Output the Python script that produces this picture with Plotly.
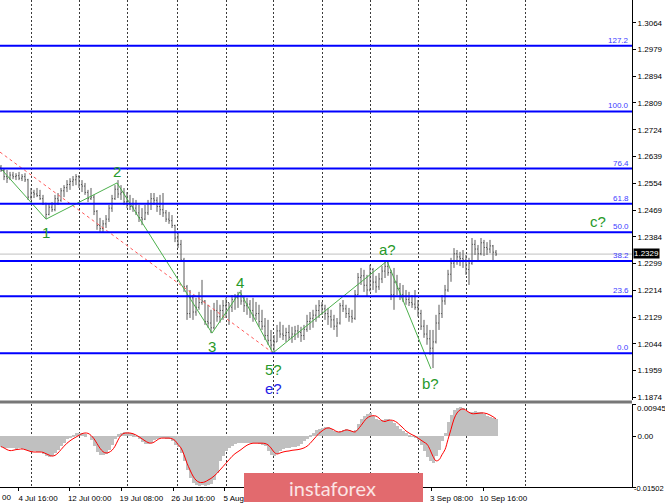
import plotly.graph_objects as go

# ---------------- data ----------------
open_ = [
    1.2605, 1.2595, 1.2575, 1.2570, 1.2580, 1.2575, 1.2578, 1.2570, 1.2575, 1.2565,
    1.2510, 1.2525, 1.2520, 1.2515, 1.2505, 1.2490, 1.2455, 1.2478, 1.2470, 1.2505,
    1.2500, 1.2530, 1.2540, 1.2550, 1.2560, 1.2565, 1.2575, 1.2550, 1.2545, 1.2525,
    1.2505, 1.2510, 1.2465, 1.2420, 1.2410, 1.2425, 1.2440, 1.2475, 1.2505, 1.2535,
    1.2520, 1.2525, 1.2495, 1.2490, 1.2480, 1.2475, 1.2460, 1.2445, 1.2440, 1.2460,
    1.2490, 1.2505, 1.2500, 1.2480, 1.2470, 1.2460, 1.2440, 1.2435, 1.2420, 1.2380,
    1.2360, 1.2310, 1.2225, 1.2140, 1.2190, 1.2145, 1.2160, 1.2175, 1.2180, 1.2115,
    1.2110, 1.2095, 1.2150, 1.2130, 1.2150, 1.2165, 1.2175, 1.2160, 1.2185, 1.2190,
    1.2195, 1.2180, 1.2165, 1.2170, 1.2150, 1.2135, 1.2140, 1.2115, 1.2100, 1.2070,
    1.2055, 1.2040, 1.2050, 1.2085, 1.2075, 1.2070, 1.2080, 1.2065, 1.2075, 1.2085,
    1.2080, 1.2070, 1.2090, 1.2115, 1.2125, 1.2135, 1.2150, 1.2165, 1.2155, 1.2140,
    1.2130, 1.2120, 1.2100, 1.2110, 1.2165, 1.2155, 1.2140, 1.2130, 1.2125, 1.2200,
    1.2255, 1.2260, 1.2230, 1.2215, 1.2280, 1.2240, 1.2225, 1.2250, 1.2275, 1.2290,
    1.2270, 1.2200, 1.2240, 1.2220, 1.2200, 1.2195, 1.2185, 1.2175, 1.2170, 1.2160,
    1.2140, 1.2100, 1.2075, 1.2060, 1.2030, 1.2050, 1.2110, 1.2140, 1.2180, 1.2215,
    1.2265, 1.2300, 1.2330, 1.2320, 1.2315, 1.2310, 1.2280, 1.2300, 1.2360, 1.2345,
    1.2330, 1.2365, 1.2350, 1.2345, 1.2355, 1.2335,
]
high = [
    1.2612, 1.2602, 1.2596, 1.2590, 1.2590, 1.2586, 1.2590, 1.2583, 1.2586, 1.2568,
    1.2539, 1.2533, 1.2539, 1.2533, 1.2517, 1.2492, 1.2491, 1.2494, 1.2517, 1.2523,
    1.2539, 1.2548, 1.2564, 1.2570, 1.2577, 1.2583, 1.2580, 1.2564, 1.2555, 1.2533,
    1.2539, 1.2517, 1.2469, 1.2444, 1.2437, 1.2453, 1.2485, 1.2517, 1.2548, 1.2564,
    1.2548, 1.2539, 1.2526, 1.2517, 1.2507, 1.2501, 1.2485, 1.2475, 1.2485, 1.2501,
    1.2523, 1.2523, 1.2510, 1.2517, 1.2523, 1.2469, 1.2463, 1.2453, 1.2422, 1.2399,
    1.2374, 1.2317, 1.2231, 1.2215, 1.2199, 1.2190, 1.2209, 1.2247, 1.2183, 1.2168,
    1.2152, 1.2174, 1.2183, 1.2168, 1.2183, 1.2190, 1.2174, 1.2199, 1.2202, 1.2209,
    1.2215, 1.2196, 1.2190, 1.2183, 1.2190, 1.2177, 1.2168, 1.2152, 1.2126, 1.2120,
    1.2088, 1.2072, 1.2104, 1.2114, 1.2104, 1.2095, 1.2104, 1.2098, 1.2101, 1.2104,
    1.2098, 1.2104, 1.2136, 1.2145, 1.2152, 1.2168, 1.2183, 1.2177, 1.2168, 1.2158,
    1.2152, 1.2136, 1.2126, 1.2174, 1.2183, 1.2168, 1.2158, 1.2152, 1.2215, 1.2269,
    1.2285, 1.2279, 1.2263, 1.2295, 1.2285, 1.2260, 1.2269, 1.2291, 1.2304, 1.2307,
    1.2279, 1.2285, 1.2263, 1.2237, 1.2231, 1.2215, 1.2209, 1.2199, 1.2215, 1.2183,
    1.2152, 1.2120, 1.2104, 1.2088, 1.2088, 1.2136, 1.2168, 1.2199, 1.2231, 1.2279,
    1.2317, 1.2348, 1.2342, 1.2336, 1.2342, 1.2326, 1.2317, 1.2380, 1.2374, 1.2358,
    1.2380, 1.2374, 1.2367, 1.2374, 1.2358, 1.2342,
]
low = [
    1.2590, 1.2564, 1.2555, 1.2564, 1.2567, 1.2564, 1.2564, 1.2561, 1.2558, 1.2501,
    1.2501, 1.2507, 1.2510, 1.2501, 1.2485, 1.2440, 1.2452, 1.2463, 1.2465, 1.2485,
    1.2495, 1.2510, 1.2526, 1.2533, 1.2545, 1.2548, 1.2539, 1.2526, 1.2517, 1.2494,
    1.2501, 1.2453, 1.2406, 1.2399, 1.2396, 1.2412, 1.2431, 1.2463, 1.2501, 1.2507,
    1.2501, 1.2485, 1.2475, 1.2469, 1.2463, 1.2453, 1.2431, 1.2421, 1.2437, 1.2453,
    1.2469, 1.2485, 1.2463, 1.2453, 1.2447, 1.2431, 1.2425, 1.2412, 1.2367, 1.2348,
    1.2304, 1.2209, 1.2120, 1.2126, 1.2120, 1.2133, 1.2152, 1.2168, 1.2104, 1.2095,
    1.2078, 1.2090, 1.2114, 1.2111, 1.2120, 1.2126, 1.2104, 1.2145, 1.2152, 1.2158,
    1.2168, 1.2145, 1.2136, 1.2126, 1.2114, 1.2120, 1.2098, 1.2088, 1.2056, 1.2041,
    1.2025, 1.2015, 1.2050, 1.2063, 1.2056, 1.2050, 1.2056, 1.2047, 1.2056, 1.2063,
    1.2050, 1.2056, 1.2082, 1.2088, 1.2095, 1.2114, 1.2126, 1.2136, 1.2120, 1.2104,
    1.2095, 1.2088, 1.2066, 1.2105, 1.2145, 1.2126, 1.2114, 1.2111, 1.2120, 1.2199,
    1.2231, 1.2209, 1.2193, 1.2210, 1.2215, 1.2206, 1.2215, 1.2237, 1.2253, 1.2260,
    1.2183, 1.2152, 1.2199, 1.2183, 1.2177, 1.2168, 1.2164, 1.2158, 1.2152, 1.2130,
    1.2088, 1.2063, 1.2041, 1.2009, 1.1967, 1.2045, 1.2088, 1.2126, 1.2168, 1.2209,
    1.2241, 1.2285, 1.2295, 1.2291, 1.2285, 1.2263, 1.2231, 1.2295, 1.2326, 1.2310,
    1.2325, 1.2323, 1.2326, 1.2332, 1.2310, 1.2323,
]
close = [
    1.2595, 1.2575, 1.2570, 1.2580, 1.2575, 1.2578, 1.2570, 1.2575, 1.2565, 1.2510,
    1.2525, 1.2520, 1.2515, 1.2505, 1.2490, 1.2455, 1.2478, 1.2470, 1.2505, 1.2500,
    1.2530, 1.2540, 1.2550, 1.2560, 1.2565, 1.2575, 1.2550, 1.2545, 1.2525, 1.2505,
    1.2510, 1.2465, 1.2420, 1.2410, 1.2425, 1.2440, 1.2475, 1.2505, 1.2535, 1.2520,
    1.2525, 1.2495, 1.2490, 1.2480, 1.2475, 1.2460, 1.2445, 1.2440, 1.2460, 1.2490,
    1.2505, 1.2500, 1.2480, 1.2470, 1.2460, 1.2440, 1.2435, 1.2420, 1.2380, 1.2360,
    1.2310, 1.2225, 1.2140, 1.2190, 1.2145, 1.2160, 1.2175, 1.2180, 1.2115, 1.2110,
    1.2095, 1.2150, 1.2130, 1.2150, 1.2165, 1.2175, 1.2160, 1.2185, 1.2190, 1.2195,
    1.2180, 1.2165, 1.2170, 1.2150, 1.2135, 1.2140, 1.2115, 1.2100, 1.2070, 1.2055,
    1.2040, 1.2050, 1.2085, 1.2075, 1.2070, 1.2080, 1.2065, 1.2075, 1.2085, 1.2080,
    1.2070, 1.2090, 1.2115, 1.2125, 1.2135, 1.2150, 1.2165, 1.2155, 1.2140, 1.2130,
    1.2120, 1.2100, 1.2110, 1.2165, 1.2155, 1.2140, 1.2130, 1.2125, 1.2200, 1.2255,
    1.2260, 1.2230, 1.2215, 1.2280, 1.2240, 1.2225, 1.2250, 1.2275, 1.2290, 1.2270,
    1.2200, 1.2240, 1.2220, 1.2200, 1.2195, 1.2185, 1.2175, 1.2170, 1.2160, 1.2140,
    1.2100, 1.2075, 1.2060, 1.2030, 1.2050, 1.2110, 1.2140, 1.2180, 1.2215, 1.2265,
    1.2300, 1.2330, 1.2320, 1.2315, 1.2310, 1.2280, 1.2300, 1.2360, 1.2345, 1.2330,
    1.2365, 1.2350, 1.2345, 1.2355, 1.2335, 1.2329,
]
osma = [
    -0.0032, -0.0035, -0.0036, -0.0035, -0.0036, -0.0037, -0.0036, -0.0038, -0.0040, -0.0045,
    -0.0046, -0.0045, -0.0046, -0.0048, -0.0052, -0.0058, -0.0062, -0.0060, -0.0050, -0.0040,
    -0.0030, -0.0020, -0.0010, -0.0005, 0.0002, 0.0008, 0.0010, 0.0008, 0.0005, 0.0000,
    -0.0012, -0.0030, -0.0048, -0.0055, -0.0056, -0.0052, -0.0040, -0.0025, -0.0010, 0.0005,
    0.0010, 0.0012, 0.0012, 0.0010, 0.0005, -0.0002, -0.0010, -0.0018, -0.0022, -0.0024,
    -0.0020, -0.0012, -0.0008, -0.0006, -0.0007, -0.0008, -0.0010, -0.0015, -0.0025, -0.0032,
    -0.0050, -0.0075, -0.0100, -0.0125, -0.0138, -0.0144, -0.0146, -0.0145, -0.0146, -0.0145,
    -0.0140, -0.0130, -0.0110, -0.0075, -0.0058, -0.0045, -0.0035, -0.0028, -0.0024, -0.0021,
    -0.0021, -0.0020, -0.0020, -0.0020, -0.0020, -0.0020, -0.0022, -0.0025, -0.0030, -0.0045,
    -0.0055, -0.0058, -0.0052, -0.0045, -0.0038, -0.0035, -0.0034, -0.0033, -0.0032, -0.0028,
    -0.0022, -0.0015, -0.0008, 0.0002, 0.0010, 0.0018, 0.0022, 0.0025, 0.0027, 0.0026,
    0.0022, 0.0016, 0.0012, 0.0015, 0.0018, 0.0020, 0.0018, 0.0015, 0.0018, 0.0035,
    0.0050, 0.0060, 0.0066, 0.0068, 0.0060, 0.0050, 0.0046, 0.0048, 0.0050, 0.0050,
    0.0045, 0.0038, 0.0030, 0.0022, 0.0015, 0.0008, 0.0002, -0.0002, -0.0006, -0.0012,
    -0.0025, -0.0045, -0.0062, -0.0075, -0.0078, -0.0060, -0.0040, -0.0015, 0.0010, 0.0040,
    0.0062, 0.0077, 0.0084, 0.0086, 0.0082, 0.0075, 0.0070, 0.0072, 0.0073, 0.0071,
    0.0070, 0.0066, 0.0060, 0.0055, 0.0052, 0.0050,
]
signal = [
    -0.0031, -0.0035, -0.0040, -0.0043, -0.0042, -0.0040, -0.0039, -0.0038, -0.0040, -0.0043,
    -0.0046, -0.0047, -0.0047, -0.0047, -0.0048, -0.0052, -0.0056, -0.0059, -0.0057, -0.0050,
    -0.0040, -0.0030, -0.0021, -0.0014, -0.0008, -0.0003, 0.0002, 0.0007, 0.0009, 0.0008,
    0.0002, -0.0008, -0.0022, -0.0036, -0.0046, -0.0050, -0.0048, -0.0042, -0.0030, -0.0012,
    0.0002, 0.0008, 0.0009, 0.0009, 0.0007, 0.0003, -0.0002, -0.0008, -0.0014, -0.0019,
    -0.0021, -0.0018, -0.0012, -0.0007, -0.0006, -0.0006, -0.0006, -0.0008, -0.0013, -0.0025,
    -0.0035, -0.0055, -0.0080, -0.0100, -0.0118, -0.0130, -0.0136, -0.0137, -0.0135, -0.0130,
    -0.0125, -0.0118, -0.0110, -0.0100, -0.0090, -0.0080, -0.0070, -0.0060, -0.0052, -0.0046,
    -0.0040, -0.0033, -0.0027, -0.0023, -0.0021, -0.0021, -0.0021, -0.0021, -0.0022, -0.0026,
    -0.0035, -0.0047, -0.0053, -0.0050, -0.0047, -0.0045, -0.0044, -0.0042, -0.0041, -0.0040,
    -0.0038, -0.0035, -0.0030, -0.0022, -0.0012, -0.0002, 0.0008, 0.0015, 0.0021, 0.0024,
    0.0022, 0.0018, 0.0013, 0.0012, 0.0015, 0.0018, 0.0017, 0.0014, 0.0012, 0.0020,
    0.0031, 0.0043, 0.0053, 0.0058, 0.0060, 0.0059, 0.0053, 0.0045, 0.0043, 0.0046,
    0.0047, 0.0045, 0.0040, 0.0032, 0.0024, 0.0015, 0.0009, 0.0004, 0.0000, -0.0006,
    -0.0012, -0.0018, -0.0024, -0.0040, -0.0060, -0.0073, -0.0070, -0.0055, -0.0040, -0.0010,
    0.0020, 0.0050, 0.0068, 0.0077, 0.0080, 0.0076, 0.0070, 0.0066, 0.0066, 0.0067,
    0.0068, 0.0068, 0.0066, 0.0062, 0.0057, 0.0051,
]

price_ticks = [1.3064, 1.2979, 1.2894, 1.2809, 1.2724, 1.2639, 1.2554, 1.2469,
               1.2384, 1.2299, 1.2214, 1.2129, 1.2044, 1.1959, 1.1874]
price_range = [1.18655, 1.31361]
osc_ticks = [0.00945, 0.0, -0.01502]
osc_tick_text = ["0.00945", "0.00", "-0.01502"]
osc_range = [-0.01502, 0.00945]

# date ticks; the three labels that sit under the watermark are not legible, so left blank
date_tick_pos = [5.67, 22.9, 40.13, 57.37, 74.6, 91.83, 109.07, 126.3, 143.53, 160.77]
date_tick_text = ["4 Jul 16:00", "12 Jul 00:00", "19 Jul 08:00", "26 Jul 16:00",
                  "5 Aug 00:00", "", "", "", "3 Sep 08:00", "10 Sep 16:00"]
grid_pos = [10.33, 26.33, 42.33, 58.67, 75.0, 90.67, 107.0, 123.0, 139.0, 155.33, 174.67]
x_range = [-0.3333, 210.3333]

fib_low, fib_high = 1.2014, 1.2782
fib_ratios = [0.0, 23.6, 38.2, 50.0, 61.8, 76.4, 100.0, 127.2]

wave_x = [0.0, 15.0, 38.67, 70.33, 79.67, 90.67, 128.67, 143.33]
wave_y = [1.2600, 1.2440, 1.2555, 1.2078, 1.2209, 1.2015, 1.2307, 1.1964]
wave_labels = ["", "1", "2", "3", "4", "5?", "a?", "b?"]
wave_label_shift = [0, -13, 11, -13, 9, -17, 12, -15]
alt_label = "e?"
target_label, target_x, target_y = "c?", 199.0, 1.2431

trend_x = [-0.3333, 90.67]
trend_y = [1.2653, 1.2015]

# ---------------- figure ----------------
AX_FONT = dict(family="Liberation Sans, Arial, sans-serif", size=8, color="#000000")
bar_x = list(range(len(close)))
last = close[-1]

fig = go.Figure()
fig.add_trace(go.Ohlc(
    x=bar_x, open=open_, high=high, low=low, close=close,
    increasing=dict(line=dict(color="#5A5A5A", width=1)),
    decreasing=dict(line=dict(color="#5A5A5A", width=1)),
    tickwidth=0.34, xaxis="x", yaxis="y", hoverinfo="skip", showlegend=False,
))
fig.add_trace(go.Scatter(
    x=trend_x, y=trend_y, mode="lines",
    line=dict(color="#FF5A5A", width=1, dash="3px,3px"),
    xaxis="x", yaxis="y", hoverinfo="skip", showlegend=False,
))
fig.add_trace(go.Scatter(
    x=wave_x, y=wave_y, mode="lines",
    line=dict(color="#4CB04C", width=1),
    xaxis="x", yaxis="y", hoverinfo="skip", showlegend=False,
))
fig.add_trace(go.Bar(
    x=bar_x, y=osma, width=1.0, marker=dict(color="#C0C0C0", line=dict(width=0)),
    xaxis="x2", yaxis="y2", hoverinfo="skip", showlegend=False,
))
fig.add_trace(go.Scatter(
    x=bar_x, y=signal, mode="lines",
    line=dict(color="#FF0000", width=1, shape="spline"),
    xaxis="x2", yaxis="y2", hoverinfo="skip", showlegend=False,
))

shapes = []
annotations = []
for r in fib_ratios:
    lvl = fib_low + r / 100.0 * (fib_high - fib_low)
    shapes.append(dict(type="line", xref="paper", x0=0, x1=1, yref="y", y0=lvl, y1=lvl,
                       line=dict(color="#0000FF", width=2), layer="above"))
    annotations.append(dict(xref="paper", x=0.998, yref="y", y=lvl, text=f"{r:.1f}",
                            xanchor="right", yanchor="bottom", yshift=-1, showarrow=False,
                            font=dict(family=AX_FONT["family"], size=8, color="#3C3CFF")))

# current price line + label
shapes.append(dict(type="line", xref="paper", x0=0, x1=1, yref="y", y0=last, y1=last,
                   line=dict(color="#C0C0C0", width=1), layer="below"))
annotations.append(dict(xref="paper", x=1.0, xshift=1, yref="y", y=last, yshift=1, text=f"{last:.4f}",
                        xanchor="left", yanchor="middle", showarrow=False, bgcolor="#000000",
                        borderpad=0, font=dict(family=AX_FONT["family"], size=8, color="#FFFFFF")))

# oscillator scale labels (MT4 style: min/max written inside the axis column)
annotations.append(dict(xref="paper", x=1.0, xshift=3, yref="y2", y=osc_ticks[0], yshift=-4,
                        text=osc_tick_text[0], xanchor="left", yanchor="middle",
                        showarrow=False, font=AX_FONT))
annotations.append(dict(xref="paper", x=1.0, xshift=0, yref="y2", y=osc_ticks[2], yshift=-1,
                        text=osc_tick_text[2], xanchor="left", yanchor="middle",
                        showarrow=False, font=dict(family=AX_FONT["family"], size=7.5, color="#000000")))

# separator between panels
shapes.append(dict(type="line", xref="paper", x0=0, x1=1, yref="paper",
                   y0=(487 - 402) / 487, y1=(487 - 402) / 487,
                   line=dict(color="#777777", width=3), layer="above"))

# wave labels
GREEN = "#27992A"
for xv, yv, lab, sh in zip(wave_x, wave_y, wave_labels, wave_label_shift):
    if lab:
        annotations.append(dict(x=xv, y=yv, xref="x", yref="y", text=lab, showarrow=False,
                                yshift=sh, font=dict(family="Arial, Liberation Sans", size=15, color=GREEN)))
annotations.append(dict(x=wave_x[5], y=wave_y[5], xref="x", yref="y", text=alt_label, showarrow=False,
                        yshift=-36, font=dict(family="Arial, Liberation Sans", size=15, color="#1E1EE6")))
annotations.append(dict(x=target_x, y=target_y, xref="x", yref="y", text=target_label, showarrow=False,
                        font=dict(family="Arial, Liberation Sans", size=15, color=GREEN)))

# cut-off first date label
annotations.append(dict(xref="paper", x=0, yref="paper", y=-0.008, text="00", xanchor="left",
                        yanchor="top", showarrow=False, font=AX_FONT))

# watermark banner
shapes.append(dict(type="rect", xref="paper", yref="paper", x0=244 / 632, x1=423 / 632,
                   y0=(487 - 502) / 487, y1=(487 - 473) / 487,
                   fillcolor="#E26A6E", line=dict(width=0), layer="above"))
annotations.append(dict(xref="paper", yref="paper", x=332 / 632, y=(487 - 487.5) / 487,
                        text="instaforex", showarrow=False, xanchor="center", yanchor="middle",
                        font=dict(family="Lato, Open Sans", size=20, color="#FBE4E4")))

fig.update_layout(
    width=665, height=504,
    margin=dict(l=0, r=33, t=0, b=17, autoexpand=False),
    paper_bgcolor="#FFFFFF", plot_bgcolor="#FFFFFF",
    hovermode=False, showlegend=False, bargap=0,
    xaxis=dict(domain=[0, 1], anchor="y", range=x_range, showticklabels=False, ticks="",
               showgrid=False, zeroline=False, showline=False, rangeslider=dict(visible=False),
               automargin=False,
               minor=dict(tickmode="array", tickvals=grid_pos, showgrid=True,
                          gridcolor="#3A3A3A", griddash="2px,2px", gridwidth=1, ticks="")),
    xaxis2=dict(domain=[0, 1], anchor="y2", range=x_range, matches="x",
                tickmode="array", tickvals=date_tick_pos, ticktext=date_tick_text,
                ticks="outside", ticklen=3, tickcolor="#000000", tickfont=AX_FONT,
                tickangle=0, ticklabelshift=20, showgrid=False, zeroline=False,
                showline=True, linecolor="#000000", linewidth=1, automargin=False,
                minor=dict(tickmode="array", tickvals=grid_pos, showgrid=True,
                           gridcolor="#3A3A3A", griddash="2px,2px", gridwidth=1, ticks="")),
    yaxis=dict(domain=[(487 - 400) / 487, 1], anchor="x", side="right", range=price_range,
               tickmode="array", tickvals=price_ticks, ticktext=[f"{v:.4f}" for v in price_ticks],
               ticks="outside", ticklen=3, tickcolor="#000000", tickfont=AX_FONT,
               showgrid=False, zeroline=False, showline=True, linecolor="#000000", linewidth=1,
               automargin=False),
    yaxis2=dict(domain=[0, (487 - 404) / 487], anchor="x2", side="right", range=osc_range,
                tickmode="array", tickvals=osc_ticks, ticktext=["", osc_tick_text[1], ""],
                ticks="outside", ticklen=3, tickcolor="#000000", tickfont=AX_FONT,
                showgrid=False, zeroline=False, showline=True, linecolor="#000000", linewidth=1,
                automargin=False),
    shapes=shapes, annotations=annotations,
)

fig.write_html("out.html", config={"displayModeBar": False},
               post_script="document.body.style.margin='0';document.body.style.padding='0';")
